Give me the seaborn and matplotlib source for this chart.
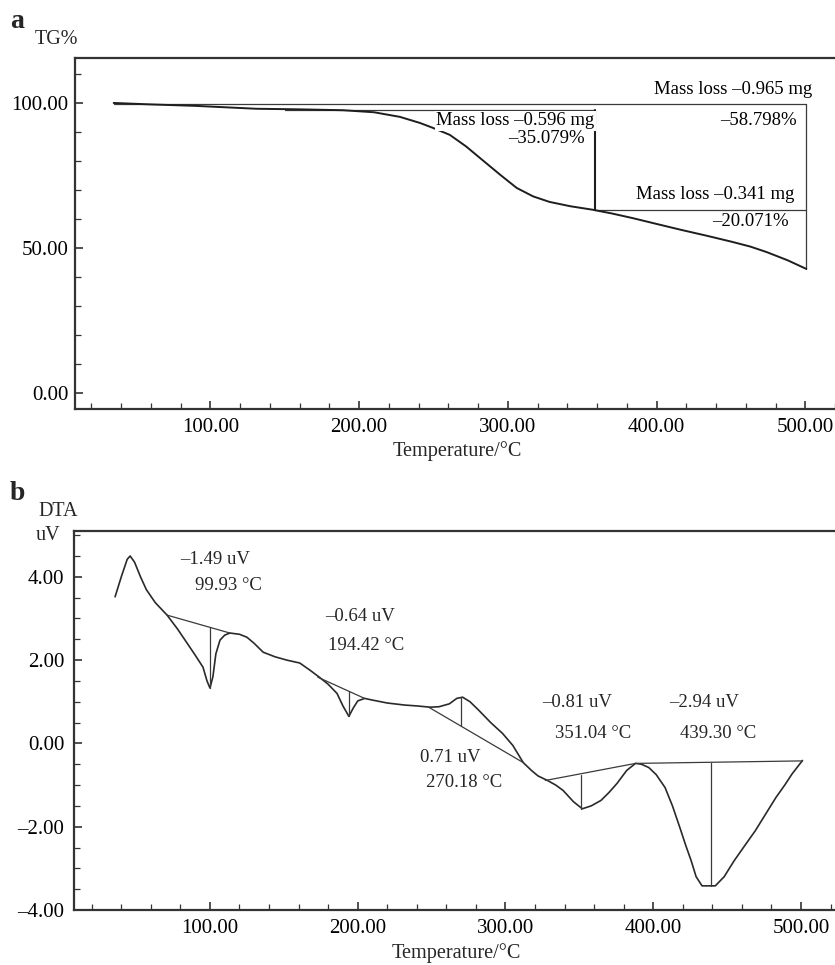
import matplotlib
matplotlib.use("Agg")
import matplotlib.pyplot as plt
import seaborn as sns
import pandas as pd
from matplotlib.ticker import MultipleLocator, FuncFormatter

# ---------------- data ----------------
# TG curve (panel a)
tg_temp = [35, 60, 90, 131, 160, 189, 210, 227.5, 241, 249.7, 261, 272, 283, 295,
           306, 317, 328, 342, 357, 370, 384, 400, 417, 434, 451, 463, 474, 488, 500.7]
tg_pct = [100.0, 99.5, 99.0, 98.0, 97.8, 97.5, 96.8, 95.2, 93.1, 91.4, 89.0, 85.0, 80.3, 75.2,
          70.7, 67.8, 65.9, 64.4, 63.2, 61.9, 60.3, 58.3, 56.2, 54.2, 52.1, 50.5, 48.6, 45.8, 42.8]

# mass-loss step markers (panel a)
tg_total_top = 99.5      # starting level
tg_step_top = 97.6       # level before first step
tg_step_temp = 358.4     # end of first step
tg_step_level = 63.2     # level at end of first step
tg_end_temp = 500.7
tg_end_level = 42.8
tg_texts = ["Mass loss –0.965 mg", "–58.798%", "Mass loss –0.596 mg",
            "–35.079%", "Mass loss –0.341 mg", "–20.071%"]

# DTA curve (panel b)
dta_temp = [35.8, 40, 44, 46, 49, 53, 57, 63, 71, 78, 84.5, 90, 95.3, 98, 100, 102, 104,
            106.8, 110, 113.5, 120, 125, 130, 136, 144, 152, 160.8, 168, 174, 180, 186, 190,
            194, 197, 200, 204.7, 210, 220, 232, 240, 249, 255, 262, 267, 271, 276, 281.8,
            290, 298, 305, 312, 317.6, 322, 328.4, 334, 339, 346, 352, 358, 364.6, 370,
            375.5, 382, 388, 392, 397, 402, 408, 413, 418, 422, 425.7, 429, 433, 442, 448,
            454.7, 462, 469, 476, 483, 489, 494, 501]
dta_uv = [3.52, 4.0, 4.42, 4.5, 4.35, 4.0, 3.69, 3.38, 3.08, 2.75, 2.41, 2.12, 1.83, 1.5,
          1.33, 1.6, 2.15, 2.48, 2.6, 2.65, 2.62, 2.55, 2.4, 2.19, 2.08, 2.0, 1.93, 1.75,
          1.59, 1.42, 1.2, 0.9, 0.65, 0.85, 1.02, 1.08, 1.04, 0.97, 0.92, 0.9, 0.87, 0.88,
          0.95, 1.08, 1.11, 1.0, 0.8, 0.5, 0.24, -0.05, -0.46, -0.65, -0.78, -0.89, -1.0,
          -1.13, -1.4, -1.57, -1.5, -1.37, -1.18, -0.96, -0.65, -0.48, -0.5, -0.58, -0.75,
          -1.06, -1.5, -2.02, -2.45, -2.82, -3.2, -3.42, -3.42, -3.2, -2.82, -2.45, -2.1,
          -1.7, -1.3, -1.0, -0.73, -0.41]

# DTA peaks: temperature, signal height, and the tangent baseline
peak_temp = [99.93, 194.42, 270.18, 351.04, 439.30]
peak_height = ["–1.49 uV", "–0.64 uV", "0.71 uV", "–0.81 uV", "–2.94 uV"]
peak_tip = [1.33, 0.65, 1.11, -1.57, -3.42]
peak_base = [2.79, 1.25, 0.41, -0.75, -0.46]
base_x0 = [71, 173, 248, 327, 388]
base_y0 = [3.08, 1.59, 0.87, -0.89, -0.48]
base_x1 = [113.5, 204.7, 312, 388, 501]
base_y1 = [2.65, 1.08, -0.46, -0.48, -0.42]

# ---------------- style ----------------
sns.set_theme(style="ticks")
plt.rcParams["font.family"] = ["Liberation Serif", "DejaVu Serif"]

INK = "#1e1e1e"
LINE = "#3a3a3a"

fig = plt.figure(figsize=(8.35, 9.65), dpi=100)
ax1 = fig.add_axes([75 / 835, 1 - 409 / 965, 1 - 75 / 835, (409 - 58) / 965])
ax2 = fig.add_axes([74 / 835, 1 - 910 / 965, 1 - 74 / 835, (910 - 531) / 965])

fmt = FuncFormatter(lambda v, p: f"{v:.2f}".replace("-", "–"))

for ax in (ax1, ax2):
    for s in ("left", "bottom", "top"):
        ax.spines[s].set_linewidth(1.6)
        ax.spines[s].set_color("#333333")
    ax.spines["right"].set_visible(False)
    ax.xaxis.set_major_locator(MultipleLocator(100))
    ax.xaxis.set_minor_locator(MultipleLocator(20))
    ax.xaxis.set_major_formatter(fmt)
    ax.yaxis.set_major_formatter(fmt)
    ax.tick_params(which="both", direction="in", top=False, right=False,
                   colors="#333333", labelcolor="black", labelsize=15)
    ax.tick_params(which="major", length=6, width=1.2)
    ax.tick_params(which="minor", length=4, width=0.9)
    ax.tick_params(axis="x", pad=6.5)
    ax.set_facecolor("white")

# ---------------- panel a: TG ----------------
tg_df = pd.DataFrame({"T": tg_temp, "TG": tg_pct})
sns.lineplot(data=tg_df, x="T", y="TG", sort=False, estimator=None,
             color=INK, lw=1.4, ax=ax1)
ax1.set_xlim(9, 520)
ax1.set_ylim(-5.5, 115.5)
ax1.yaxis.set_major_locator(MultipleLocator(50))
ax1.yaxis.set_minor_locator(MultipleLocator(10))
ax1.tick_params(axis="y", pad=4.5)

lk = dict(color=LINE, lw=0.9, zorder=1)
ax1.plot([tg_temp[0], tg_end_temp], [tg_total_top, tg_total_top], **lk)
ax1.plot([tg_end_temp, tg_end_temp], [tg_total_top, tg_end_level], **lk)
ax1.plot([150, tg_step_temp], [tg_step_top, tg_step_top], **lk)
ax1.plot([tg_step_temp, tg_step_temp], [tg_step_top, tg_step_level], lw=1.5, color=INK, zorder=1)
ax1.plot([tg_step_temp, tg_end_temp], [tg_step_level, tg_step_level], **lk)

tk = dict(fontsize=13.5, color="black", ha="right", va="center", zorder=5)
ax1.text(504.7, 104.5, tg_texts[0], **tk)
ax1.text(494.6, 93.8, tg_texts[1], **tk)
ax1.text(358.4, 93.8, tg_texts[2],
         bbox=dict(facecolor="white", edgecolor="none", pad=1.0), **tk)
ax1.text(351.7, 87.9, tg_texts[3], **tk)
ax1.text(492.6, 68.3, tg_texts[4], **tk)
ax1.text(489.0, 59.0, tg_texts[5], **tk)

ax1.set_xlabel("Temperature/°C", fontsize=14.6)
ax1.xaxis.set_label_coords(0.503, -0.092)
ax1.set_ylabel("")

# ---------------- panel b: DTA ----------------
dta_df = pd.DataFrame({"T": dta_temp, "DTA": dta_uv})
sns.lineplot(data=dta_df, x="T", y="DTA", sort=False, estimator=None,
             color="#2a2a2a", lw=1.2, ax=ax2)
ax2.set_xlim(8, 523)
ax2.set_ylim(-4.0, 5.1)
ax2.yaxis.set_major_locator(MultipleLocator(2))
ax2.yaxis.set_minor_locator(MultipleLocator(0.5))
ax2.tick_params(axis="y", pad=7)

for i in range(len(peak_temp)):
    ax2.plot([base_x0[i], base_x1[i]], [base_y0[i], base_y1[i]], color=LINE, lw=0.9)
    ax2.plot([peak_temp[i], peak_temp[i]], [peak_base[i], peak_tip[i]], color=LINE, lw=0.9)

label_pos = [((79.7, 4.41), (89.9, 3.78)),
             ((177.7, 3.04), (179.7, 2.36)),
             ((241.9, -0.34), (245.9, -0.94)),
             ((324.9, 0.99), (333.8, 0.24)),
             ((410.8, 0.99), (418.0, 0.24))]
for i, ((x1, y1), (x2, y2)) in enumerate(label_pos):
    ax2.text(x1, y1, peak_height[i], fontsize=13.5, ha="left", va="center")
    ax2.text(x2, y2, f"{peak_temp[i]:.2f} °C", fontsize=13.5, ha="left", va="center")

ax2.set_xlabel("Temperature/°C", fontsize=14.6)
ax2.xaxis.set_label_coords(0.503, -0.086)
ax2.set_ylabel("")

# ---------------- panel letters / axis titles ----------------
fig.text(10 / 835, 1 - 22 / 965, "a", fontsize=20, fontweight="bold", ha="left", va="center")
fig.text(35 / 835, 1 - 40 / 965, "TG%", fontsize=14.5, ha="left", va="center")
fig.text(10 / 835, 1 - 494 / 965, "b", fontsize=20, fontweight="bold", ha="left", va="center")
fig.text(38 / 835, 1 - 512 / 965, "DTA", fontsize=14.5, ha="left", va="center")
fig.text(36 / 835, 1 - 536 / 965, "uV", fontsize=14.5, ha="left", va="center")

fig.savefig("out.png", dpi=100, facecolor="white")
